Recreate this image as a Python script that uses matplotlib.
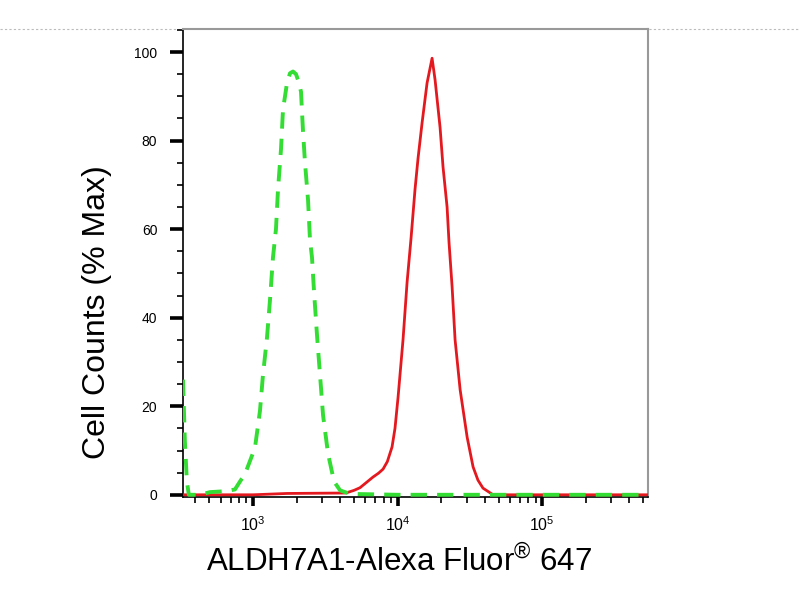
import matplotlib
matplotlib.use("Agg")
import matplotlib.pyplot as plt
from matplotlib.ticker import LogLocator, FixedLocator, NullFormatter, MultipleLocator
from matplotlib.lines import Line2D

plt.rcParams['font.family'] = ['Liberation Sans', 'DejaVu Sans']
plt.rcParams['mathtext.fontset'] = 'custom'
plt.rcParams['mathtext.rm'] = 'Liberation Sans'
plt.rcParams['mathtext.it'] = 'Liberation Sans:italic'
plt.rcParams['mathtext.bf'] = 'Liberation Sans:bold'

# Isotype control (green dashed)
green_x = [328, 338, 349, 360, 430, 504, 640, 750, 813, 881, 1032, 1118, 1172,
           1250, 1311, 1375, 1442, 1490, 1562, 1613, 1719, 1803, 1891, 1985,
           2082, 2149, 2219, 2290, 2404, 2480, 2560, 2643, 2773, 2910, 3052,
           3304, 3636, 4002, 4693, 10000, 50000, 540000]
green_y = [26, 12, 3, 0, 0, 0.6, 0.8, 1.2, 3, 4.7, 10.6, 19, 27,
           35.5, 44, 53.6, 60, 69, 78, 87, 93, 95.2, 95.6, 95,
           93, 91, 82, 75, 66.5, 57.5, 53.6, 46, 36, 27, 18,
           9.3, 3, 1, 0.2, 0, 0, 0]

# ALDH7A1 stained (red solid)
red_x = [328, 1000, 1719, 4335, 4477, 5000, 5500, 6100, 6760, 7400, 7940, 8500,
         9160, 9600, 10080, 10910, 11640, 12400, 13210, 13860, 14780, 16000,
         17330, 18180, 19680, 20640, 22010, 22700, 23840, 25000, 27100, 30300,
         33300, 36000, 39000, 45800, 540000]
red_y = [0, 0, 0.3, 0.4, 0.5, 1.0, 1.6, 2.8, 4, 4.9, 5.8, 7.5,
         10.8, 15, 22, 35, 48, 58, 69, 76, 84, 93,
         98.6, 93.7, 83, 74, 65, 57, 47, 35, 23.7, 13,
         6.3, 3.3, 1.5, 0, 0]

y_ticks = [0, 20, 40, 60, 80, 100]
x_major = [1e3, 1e4, 1e5]

fig = plt.figure(figsize=(8, 6), dpi=100)
ax = fig.add_axes([183/800, 1-497/600, (648-183)/800, (497-29)/600])

ax.plot(red_x, red_y, color='#e3191f', lw=2.0, zorder=3)
ax.plot(green_x, green_y, color='#33dd33', lw=2.8, dashes=(4.2, 2.6), zorder=4)

ax.set_xscale('log')
ax.set_xlim(328, 5.4e5)
ax.set_ylim(-0.5, 105.2)

ax.xaxis.set_major_locator(FixedLocator(x_major))
ax.xaxis.set_minor_locator(LogLocator(base=10, subs=range(2, 10), numticks=20))
ax.xaxis.set_minor_formatter(NullFormatter())
ax.set_yticks(y_ticks)
ax.yaxis.set_minor_locator(MultipleLocator(5))

ax.tick_params(axis='x', which='major', direction='out', length=6.5, width=2.6,
               color='black', labelsize=11.5, pad=7)
ax.tick_params(axis='y', which='major', direction='out', length=9.5, width=2.6,
               color='black', labelsize=10, pad=9)
ax.tick_params(axis='both', which='minor', direction='out', length=4, width=1.2,
               color='black')

for s in ['left', 'bottom']:
    ax.spines[s].set_color('black')
    ax.spines[s].set_linewidth(1.2)
for s in ['top', 'right']:
    ax.spines[s].set_color('#999999')
    ax.spines[s].set_linewidth(1.5)

fig.text(97/800, 1-312/600, 'Cell Counts (% Max)', fontsize=23, rotation=90,
         ha='center', va='center')
fig.text(399/800, 1-562/600, 'ALDH7A1-Alexa Fluor$^{\u00ae}$ 647', fontsize=22.5,
         ha='center', va='center')

# dotted guide line across the figure at the top of the plot
fig.add_artist(Line2D([0, 1], [1-29/600, 1-29/600], transform=fig.transFigure,
                      color='#bbbbbb', lw=0.8, ls=(0, (2, 2)), zorder=0))

fig.savefig('out.png', dpi=100)
